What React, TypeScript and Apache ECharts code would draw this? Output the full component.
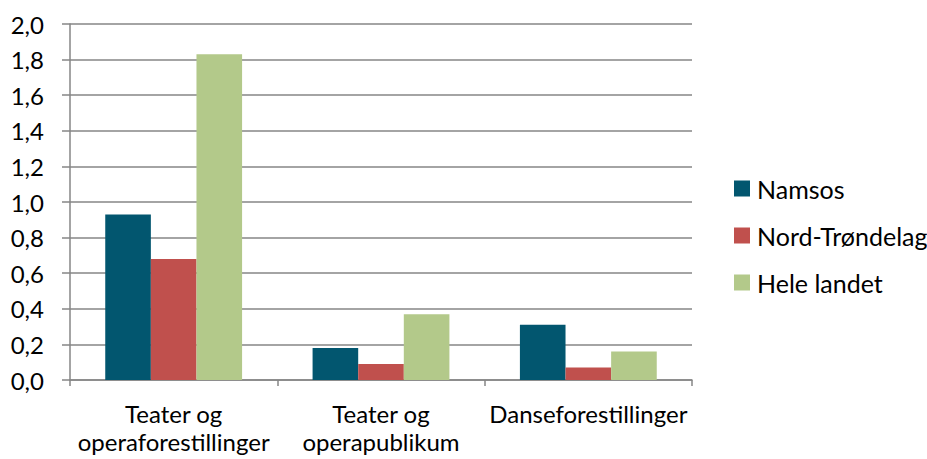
import React, { useEffect, useRef } from "react";
import * as echarts from "echarts";

const categories = ["Teater og\noperaforestillinger", "Teater og\noperapublikum", "Danseforestillinger"];
const seriesNames = ["Namsos", "Nord-Trøndelag", "Hele landet"];
const namsos = [0.93, 0.18, 0.31];
const nordTrondelag = [0.68, 0.09, 0.07];
const heleLandet = [1.83, 0.37, 0.16];
const colors = ["#02566F", "#C0504D", "#B3C98A"];

export default function App() {
  const ref = useRef<HTMLDivElement>(null);
  useEffect(() => {
    document.body.style.margin = "0";
    document.body.style.overflow = "hidden";
    const chart = echarts.init(ref.current!, null, { renderer: "svg" });
    const font = "Lato, 'Open Sans', sans-serif";
    const data = [namsos, nordTrondelag, heleLandet];
    chart.setOption({
      animation: false,
      textStyle: { fontFamily: font },
      grid: { left: 70, right: 235, top: 24, bottom: 79, containLabel: false, outerBoundsMode: "none" },
      legend: {
        orient: "vertical",
        left: 734,
        top: 176,
        padding: 0,
        itemWidth: 16,
        itemHeight: 16,
        itemGap: 22,
        icon: "rect",
        textStyle: { fontSize: 25, lineHeight: 24, color: "#000", fontFamily: font, padding: [0, 0, 0, 2] },
        data: seriesNames,
      },
      xAxis: {
        type: "category",
        data: categories,
        axisLine: { lineStyle: { color: "#868686", width: 1.5 } },
        axisTick: { show: true, length: 6, lineStyle: { color: "#868686", width: 1.5 } },
        axisLabel: { fontSize: 24, color: "#000", lineHeight: 28, margin: 19, interval: 0, fontFamily: font },
      },
      yAxis: {
        type: "value",
        min: 0,
        max: 2,
        interval: 0.2,
        axisLine: { show: true, lineStyle: { color: "#868686", width: 1.5 } },
        axisTick: { show: true, length: 8, lineStyle: { color: "#868686", width: 1.5 } },
        splitLine: { lineStyle: { color: "#868686", width: 1.5 } },
        axisLabel: {
          fontSize: 24,
          color: "#000",
          margin: 26,
          fontFamily: font,
          formatter: (v: number) => v.toFixed(1).replace(".", ","),
        },
      },
      series: seriesNames.map((name, i) => ({
        name,
        type: "bar",
        data: data[i],
        barGap: "0%",
        barCategoryGap: "34%",
        itemStyle: { color: colors[i] },
      })),
    });
    return () => chart.dispose();
  }, []);
  return <div ref={ref} style={{ width: 927, height: 459, position: "absolute", left: 0, top: 0 }} />;
}
